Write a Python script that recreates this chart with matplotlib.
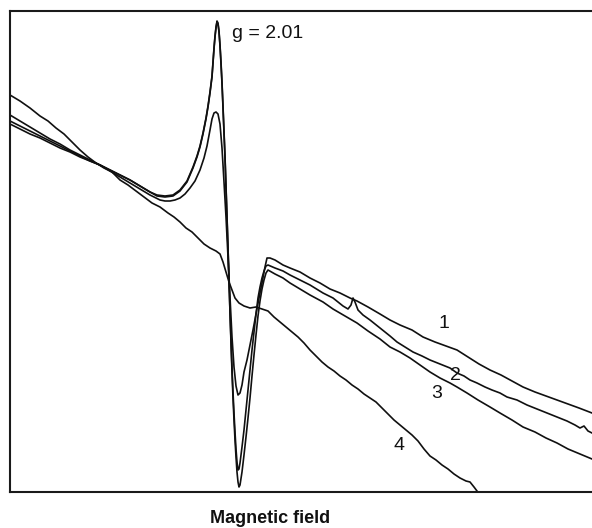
import matplotlib
matplotlib.use("Agg")
import matplotlib.pyplot as plt

plt.rcParams["font.family"] = ["Liberation Sans", "DejaVu Sans"]

# EPR first-derivative traces, field in arbitrary units, signal in arbitrary units
# (0 = bottom of the recorded window).

field_4 = [10, 20, 30, 40, 48, 56, 64, 72, 80, 88, 96, 104, 112, 120, 128, 136, 144,
           152, 160, 168, 174, 180, 186, 192, 198, 204, 210, 216, 220, 223, 226, 229,
           232, 235, 239, 244, 250, 256, 262, 268, 274, 280, 286, 292, 298, 304, 310,
           316, 322, 328, 334, 340, 346, 352, 358, 364, 370, 376, 382, 388, 394, 400,
           406, 412, 418, 424, 430, 436, 442, 448, 454, 460, 466, 470, 474, 477]
signal_4 = [396, 390, 383, 375, 370, 363, 357, 349, 341, 334, 328, 323, 319, 311, 306,
            300, 294, 288, 284, 278, 274, 269, 263, 259, 253, 247, 243, 240, 237, 229,
            219, 209, 201, 193, 188, 185, 183, 184, 182, 180, 174, 169, 164, 159, 154,
            148, 141, 135, 129, 124, 120, 115, 111, 106, 102, 97, 93, 89, 83, 77, 71,
            66, 61, 56, 50, 42, 35, 31, 26, 22, 17, 13, 10, 9, 4, 0]

field_1 = [10, 20, 30, 40, 50, 60, 70, 80, 90, 100, 110, 120, 130, 140, 150, 160, 165,
           170, 175, 180, 185, 190, 195, 200, 204, 207, 210, 212, 214, 216, 218, 220,
           222, 224, 226, 228, 230, 232, 234, 236, 238, 240, 242, 244, 247, 250, 253,
           256, 259, 262, 265, 267, 270, 275, 283, 290, 300, 310, 320, 330, 340, 350,
           357, 368, 380, 390, 400, 412, 423, 435, 446, 457, 468, 479, 490, 501, 512,
           523, 535, 546, 557, 568, 579, 592]
signal_1 = [367, 362, 357, 353, 348, 343, 339, 334, 330, 326, 320, 314, 308, 302, 296,
            291, 290, 290, 291, 293, 297, 303, 310, 321, 333, 345, 361, 372, 378, 379,
            377, 367, 343, 309, 274, 234, 194, 154, 124, 105, 96, 98, 106, 119, 131,
            146, 161, 177, 193, 208, 224, 233, 233, 231, 226, 223, 219, 213, 208, 202,
            198, 193, 190, 184, 177, 171, 166, 161, 154, 149, 145, 141, 134, 127, 121,
            116, 110, 104, 99, 95, 91, 87, 83, 78]

field_2 = [10, 20, 30, 40, 50, 60, 70, 80, 90, 100, 110, 120, 130, 140, 150, 157, 165,
           173, 180, 187, 193, 197, 200, 203, 206, 208, 210, 212, 213, 214, 215, 216,
           217, 218, 219, 220, 221, 222, 223, 224, 225, 226, 227, 228, 229, 230, 231,
           232, 233, 234, 235, 236, 237, 238, 239, 240, 242, 244, 246, 248, 250, 252,
           254, 256, 258, 260, 262, 264, 266, 268, 275, 283, 290, 300, 310, 323, 333,
           343, 348, 351, 353, 355, 358, 363, 370, 380, 390, 397, 405, 413, 422, 430,
           440, 450, 457, 464, 470, 477, 485, 492, 500, 507, 517, 527, 537, 547, 557,
           567, 575, 580, 584, 588, 592]
signal_2 = [376, 370, 364, 358, 352, 347, 341, 336, 331, 326, 321, 316, 311, 305, 299,
            296, 295, 296, 301, 310, 324, 335, 345, 358, 373, 385, 399, 415, 429, 443,
            455, 464, 469, 467, 459, 445, 427, 407, 383, 358, 333, 303, 273, 243, 211,
            179, 151, 123, 99, 78, 59, 42, 29, 21, 22, 28, 44, 61, 81, 101, 121, 141,
            159, 177, 193, 204, 213, 220, 225, 226, 223, 220, 216, 211, 206, 198, 193,
            185, 182, 186, 193, 189, 181, 176, 171, 163, 155, 149, 144, 139, 135, 131,
            127, 123, 118, 115, 111, 108, 104, 101, 98, 94, 91, 86, 82, 78, 74, 70, 66,
            63, 65, 60, 58]

field_3 = [10, 20, 30, 40, 50, 60, 70, 80, 90, 100, 110, 120, 130, 140, 150, 157, 165,
           173, 180, 187, 193, 197, 200, 203, 206, 208, 210, 212, 213, 214, 215, 216,
           217, 218, 219, 220, 221, 222, 223, 224, 225, 226, 227, 228, 229, 230, 231,
           232, 233, 234, 235, 236, 237, 238, 239, 240, 242, 244, 246, 248, 250, 252,
           254, 256, 258, 260, 262, 264, 266, 268, 275, 283, 290, 300, 310, 323, 333,
           345, 357, 368, 380, 390, 400, 410, 420, 430, 440, 450, 457, 467, 478, 490,
           500, 512, 523, 535, 546, 557, 568, 580, 592]
signal_3 = [370, 365, 360, 355, 350, 345, 340, 335, 330, 326, 321, 316, 311, 305, 299,
            295, 294, 295, 300, 309, 323, 334, 344, 357, 372, 384, 398, 414, 428, 442,
            454, 463, 470, 468, 460, 446, 429, 409, 385, 360, 335, 305, 275, 244, 211,
            178, 148, 119, 93, 71, 51, 34, 19, 9, 4, 6, 19, 36, 54, 73, 93, 115, 136,
            156, 175, 190, 202, 211, 218, 221, 217, 213, 208, 202, 196, 189, 182, 175,
            168, 160, 152, 144, 139, 133, 126, 119, 113, 108, 104, 98, 91, 84, 78, 71,
            64, 59, 53, 48, 42, 37, 32]

trace_labels = ["1", "2", "3", "4"]
label_field = [444, 455, 437, 399]
label_signal = [168, 116, 97, 45]

fig = plt.figure(figsize=(5.92, 5.28), dpi=100)
ax = fig.add_axes([10 / 592, 36.5 / 528, 582 / 592, 480.5 / 528])

for f, s in [(field_4, signal_4), (field_3, signal_3), (field_2, signal_2), (field_1, signal_1)]:
    ax.plot(f, s, color="#101010", lw=1.2, solid_joinstyle="round")

for t, x, y in zip(trace_labels, label_field, label_signal):
    ax.text(x, y, t, fontsize=14, ha="center", va="center", color="#111111")

ax.text(232, 453, "g = 2.01", fontsize=14, ha="left", va="baseline", color="#111111")

ax.set_xlim(10, 592)
ax.set_ylim(-0.5, 480)
ax.set_xticks([])
ax.set_yticks([])
ax.spines["right"].set_visible(False)
for side in ("left", "top", "bottom"):
    ax.spines[side].set_linewidth(1.5)
    ax.spines[side].set_color("#1a1a1a")

fig.text(270 / 592, 1 - 523 / 528, "Magnetic field", fontsize=13, fontweight="bold",
         ha="center", va="baseline", color="#111111")

fig.savefig("out.png", dpi=100)
